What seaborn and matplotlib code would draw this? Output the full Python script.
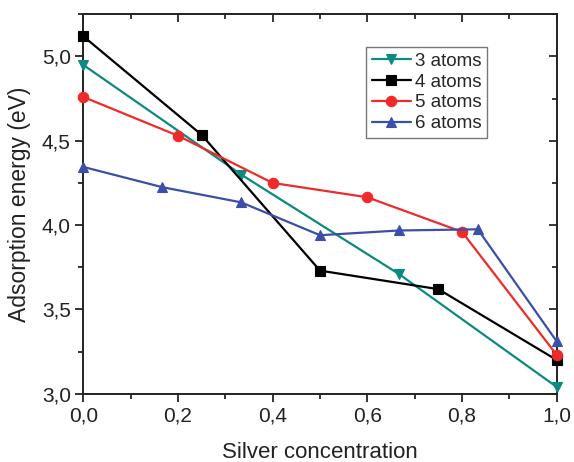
import matplotlib
matplotlib.use("Agg")
import matplotlib.pyplot as plt
from matplotlib.ticker import MultipleLocator, FuncFormatter
import seaborn as sns
import pandas as pd

sns.set_theme(style="ticks")
plt.rcParams["font.family"] = ["Liberation Sans", "DejaVu Sans"]

x3 = [0.0, 1/3, 2/3, 1.0]
y3 = [4.95, 4.30, 3.71, 3.04]

x4 = [0.0, 0.25, 0.5, 0.75, 1.0]
y4 = [5.12, 4.535, 3.73, 3.62, 3.20]

x5 = [0.0, 0.2, 0.4, 0.6, 0.8, 1.0]
y5 = [4.76, 4.53, 4.25, 4.165, 3.96, 3.23]

x6 = [0.0, 1/6, 1/3, 0.5, 2/3, 5/6, 1.0]
y6 = [4.345, 4.225, 4.135, 3.94, 3.968, 3.975, 3.31]

series = [
    ("3 atoms", x3, y3, "#0b8a80", "v"),
    ("4 atoms", x4, y4, "#000000", "s"),
    ("5 atoms", x5, y5, "#ee2a2a", "o"),
    ("6 atoms", x6, y6, "#3b4fa8", "^"),
]

fig = plt.figure(figsize=(5.74, 4.62), dpi=100)
ax = fig.add_axes([0.1451, 0.1478, 0.8248, 0.8212])

for name, xs, ys, color, marker in series:
    df = pd.DataFrame({"x": xs, "y": ys})
    sns.lineplot(data=df, x="x", y="y", ax=ax, color=color, marker=marker,
                 markersize=7.5 if marker != "s" else 6.5, markeredgewidth=0.8,
                 markeredgecolor=color, linewidth=1.6, label=name,
                 clip_on=False, zorder=3)

ax.set_xlim(0, 1.0)
ax.set_ylim(3.0, 5.25)
ax.xaxis.set_major_locator(MultipleLocator(0.2))
ax.xaxis.set_minor_locator(MultipleLocator(0.1))
ax.yaxis.set_major_locator(MultipleLocator(0.5))
ax.yaxis.set_minor_locator(MultipleLocator(0.25))
comma = FuncFormatter(lambda v, p: f"{v:.1f}".replace(".", ","))
ax.xaxis.set_major_formatter(comma)
ax.yaxis.set_major_formatter(comma)

for side in ["left", "right", "top", "bottom"]:
    ax.spines[side].set_linewidth(1.4)
    ax.spines[side].set_color("#222222")

ax.tick_params(axis="both", which="major", direction="out", length=6, width=1.3,
               labelsize=15, colors="#222222", pad=3)
ax.tick_params(axis="both", which="minor", direction="out", length=3.5, width=1.3,
               colors="#222222")
# mirrored inward ticks on the top and right edges
ax_top = ax.secondary_xaxis("top")
ax_top.xaxis.set_major_locator(MultipleLocator(0.2))
ax_top.xaxis.set_minor_locator(MultipleLocator(0.1))
ax_top.tick_params(which="major", direction="in", length=6, width=1.3, labeltop=False)
ax_top.tick_params(which="minor", direction="in", length=3.5, width=1.3)
ax_top.spines["top"].set_visible(False)
ax_right = ax.secondary_yaxis("right")
ax_right.yaxis.set_major_locator(MultipleLocator(0.5))
ax_right.yaxis.set_minor_locator(MultipleLocator(0.25))
ax_right.tick_params(which="major", direction="in", length=6, width=1.3, labelright=False)
ax_right.tick_params(which="minor", direction="in", length=3.5, width=1.3)
ax_right.spines["right"].set_visible(False)

ax.set_xlabel("Silver concentration", fontsize=16, color="#222222", labelpad=12)
ax.set_ylabel("Adsorption energy (eV)", fontsize=16.5, color="#222222", labelpad=8)

leg = ax.legend(loc="upper left", bbox_to_anchor=(0.597, 0.914), fontsize=13.5,
                frameon=True, fancybox=False, handlelength=2.1, handletextpad=0.2,
                borderpad=0.3, labelspacing=0.2, borderaxespad=0)
leg.get_frame().set_edgecolor("#555555")
leg.get_frame().set_linewidth(1.0)

fig.savefig("out.png", dpi=100)
